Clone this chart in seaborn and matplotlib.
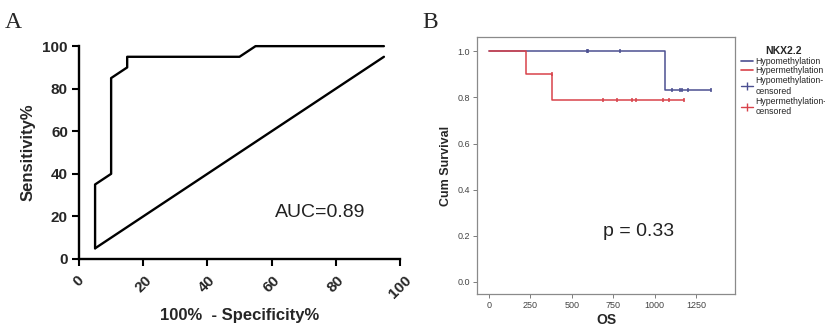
import numpy as np
import pandas as pd
import matplotlib
matplotlib.use("Agg")
import matplotlib.pyplot as plt
import seaborn as sns
from matplotlib.lines import Line2D

# ---------------- data ----------------
roc_fpr = [5, 5, 10, 10, 15, 15, 50, 55, 95]
roc_tpr = [5, 35, 40, 85, 90, 95, 95, 100, 100]
diag_x = [5, 95]
diag_y = [5, 95]
auc_text = "AUC=0.89"

hypo_time = [0, 1065, 1065, 1340]
hypo_surv = [1.0, 1.0, 0.833, 0.833]
hyper_time = [0, 225, 225, 380, 380, 1180]
hyper_surv = [1.0, 1.0, 0.9, 0.9, 0.789, 0.789]
hypo_cens_t = [590, 600, 790, 1105, 1150, 1165, 1200, 1340]
hypo_cens_s = [1.0, 1.0, 1.0, 0.833, 0.833, 0.833, 0.833, 0.833]
hyper_cens_t = [380, 690, 775, 865, 885, 1050, 1085, 1180]
hyper_cens_s = [0.9, 0.789, 0.789, 0.789, 0.789, 0.789, 0.789, 0.789]
p_text = "p = 0.33"

xticks_a = [0, 20, 40, 60, 80, 100]
yticks_a = [0, 20, 40, 60, 80, 100]
xticks_b = [0, 250, 500, 750, 1000, 1250]
yticks_b = [0.0, 0.2, 0.4, 0.6, 0.8, 1.0]

blue = "#4b4f91"
red = "#d8424a"

sns.set_theme(style="white")
plt.rcParams['font.family'] = ['Liberation Sans', 'DejaVu Sans']

fig = plt.figure(figsize=(8.25, 3.32), dpi=100)

# ---------------- panel A ----------------
axA = fig.add_axes([0.0958, 0.22, 0.389, 0.641])
sns.lineplot(x=roc_fpr, y=roc_tpr, ax=axA, color="black", lw=1.7,
             estimator=None, sort=False)
sns.lineplot(x=diag_x, y=diag_y, ax=axA, color="black", lw=1.7,
             estimator=None, sort=False)
for l in axA.lines:
    l.set_clip_on(False)
axA.set_xlim(0, 100)
axA.set_ylim(0, 100)
axA.set_xticks(xticks_a)
axA.set_yticks(yticks_a)
axA.set_xticklabels([str(v) for v in xticks_a], rotation=45, ha="center",
                    va="top", fontsize=11, fontweight="bold")
axA.set_yticklabels([str(v) for v in yticks_a], fontsize=11, fontweight="bold")
axA.tick_params(axis="both", direction="out", length=5, width=1.5, color="black",
                bottom=True, left=True, pad=3)
axA.tick_params(axis="x", pad=5)
for s in ["top", "right"]:
    axA.spines[s].set_visible(False)
for s in ["left", "bottom"]:
    axA.spines[s].set_color("black")
    axA.spines[s].set_linewidth(1.7)
axA.set_xlabel("100%  - Specificity%", fontsize=12, fontweight="bold", labelpad=5)
axA.set_ylabel("Sensitivity%", fontsize=12, fontweight="bold", labelpad=5)
axA.text(61, 22, auc_text, fontsize=14, color="#222222", va="center", ha="left")
fig.text(0.006, 0.965, "A", fontsize=17, family="Liberation Serif", va="top", ha="left")

# ---------------- panel B ----------------
axB = fig.add_axes([0.578, 0.1145, 0.313, 0.774])
sns.lineplot(x=hypo_time, y=hypo_surv, ax=axB, color=blue, lw=1.1,
             estimator=None, sort=False)
sns.lineplot(x=hyper_time, y=hyper_surv, ax=axB, color=red, lw=1.1,
             estimator=None, sort=False)
sns.scatterplot(x=hypo_cens_t, y=hypo_cens_s, ax=axB, color=blue, marker="|",
                s=10, linewidth=1.1)
sns.scatterplot(x=hyper_cens_t, y=hyper_cens_s, ax=axB, color=red, marker="|",
                s=10, linewidth=1.1)
axB.set_xlim(-72, 1485)
axB.set_ylim(-0.052, 1.062)
axB.set_xticks(xticks_b)
axB.set_yticks(yticks_b)
axB.set_xticklabels([str(v) for v in xticks_b], fontsize=6.5, color="#444444")
axB.set_yticklabels([f"{v:.1f}" for v in yticks_b], fontsize=6.5, color="#444444")
axB.tick_params(axis="both", direction="out", length=3, width=0.6, color="#666666",
                bottom=True, left=True, pad=2)
for s in axB.spines.values():
    s.set_color("#8a8a8a")
    s.set_linewidth(0.9)
axB.set_xlabel("OS", fontsize=10, fontweight="bold", labelpad=2)
axB.set_ylabel("Cum Survival", fontsize=9, fontweight="bold", labelpad=4)
axB.text(690, 0.22, p_text, fontsize=14, color="#222222", va="center", ha="left")
fig.text(0.512, 0.965, "B", fontsize=17, family="Liberation Serif", va="top", ha="left")

handles = [
    Line2D([], [], color=blue, lw=1.2),
    Line2D([], [], color=red, lw=1.2),
    Line2D([], [], color=blue, lw=1.0, marker="|", markersize=6),
    Line2D([], [], color=red, lw=1.0, marker="|", markersize=6),
]
labels = ["Hypomethylation", "Hypermethylation", "Hypomethylation-\ncensored",
          "Hypermethylation-\ncensored"]
leg = axB.legend(handles, labels, title="NKX2.2", loc="upper left",
                 bbox_to_anchor=(1.0, 0.99), frameon=False, fontsize=6.3,
                 title_fontproperties={"weight": "bold", "size": 7.5},
                 handlelength=1.4, handletextpad=0.2, labelspacing=0.1,
                 borderaxespad=0.3)

fig.savefig("out.png", dpi=100)
